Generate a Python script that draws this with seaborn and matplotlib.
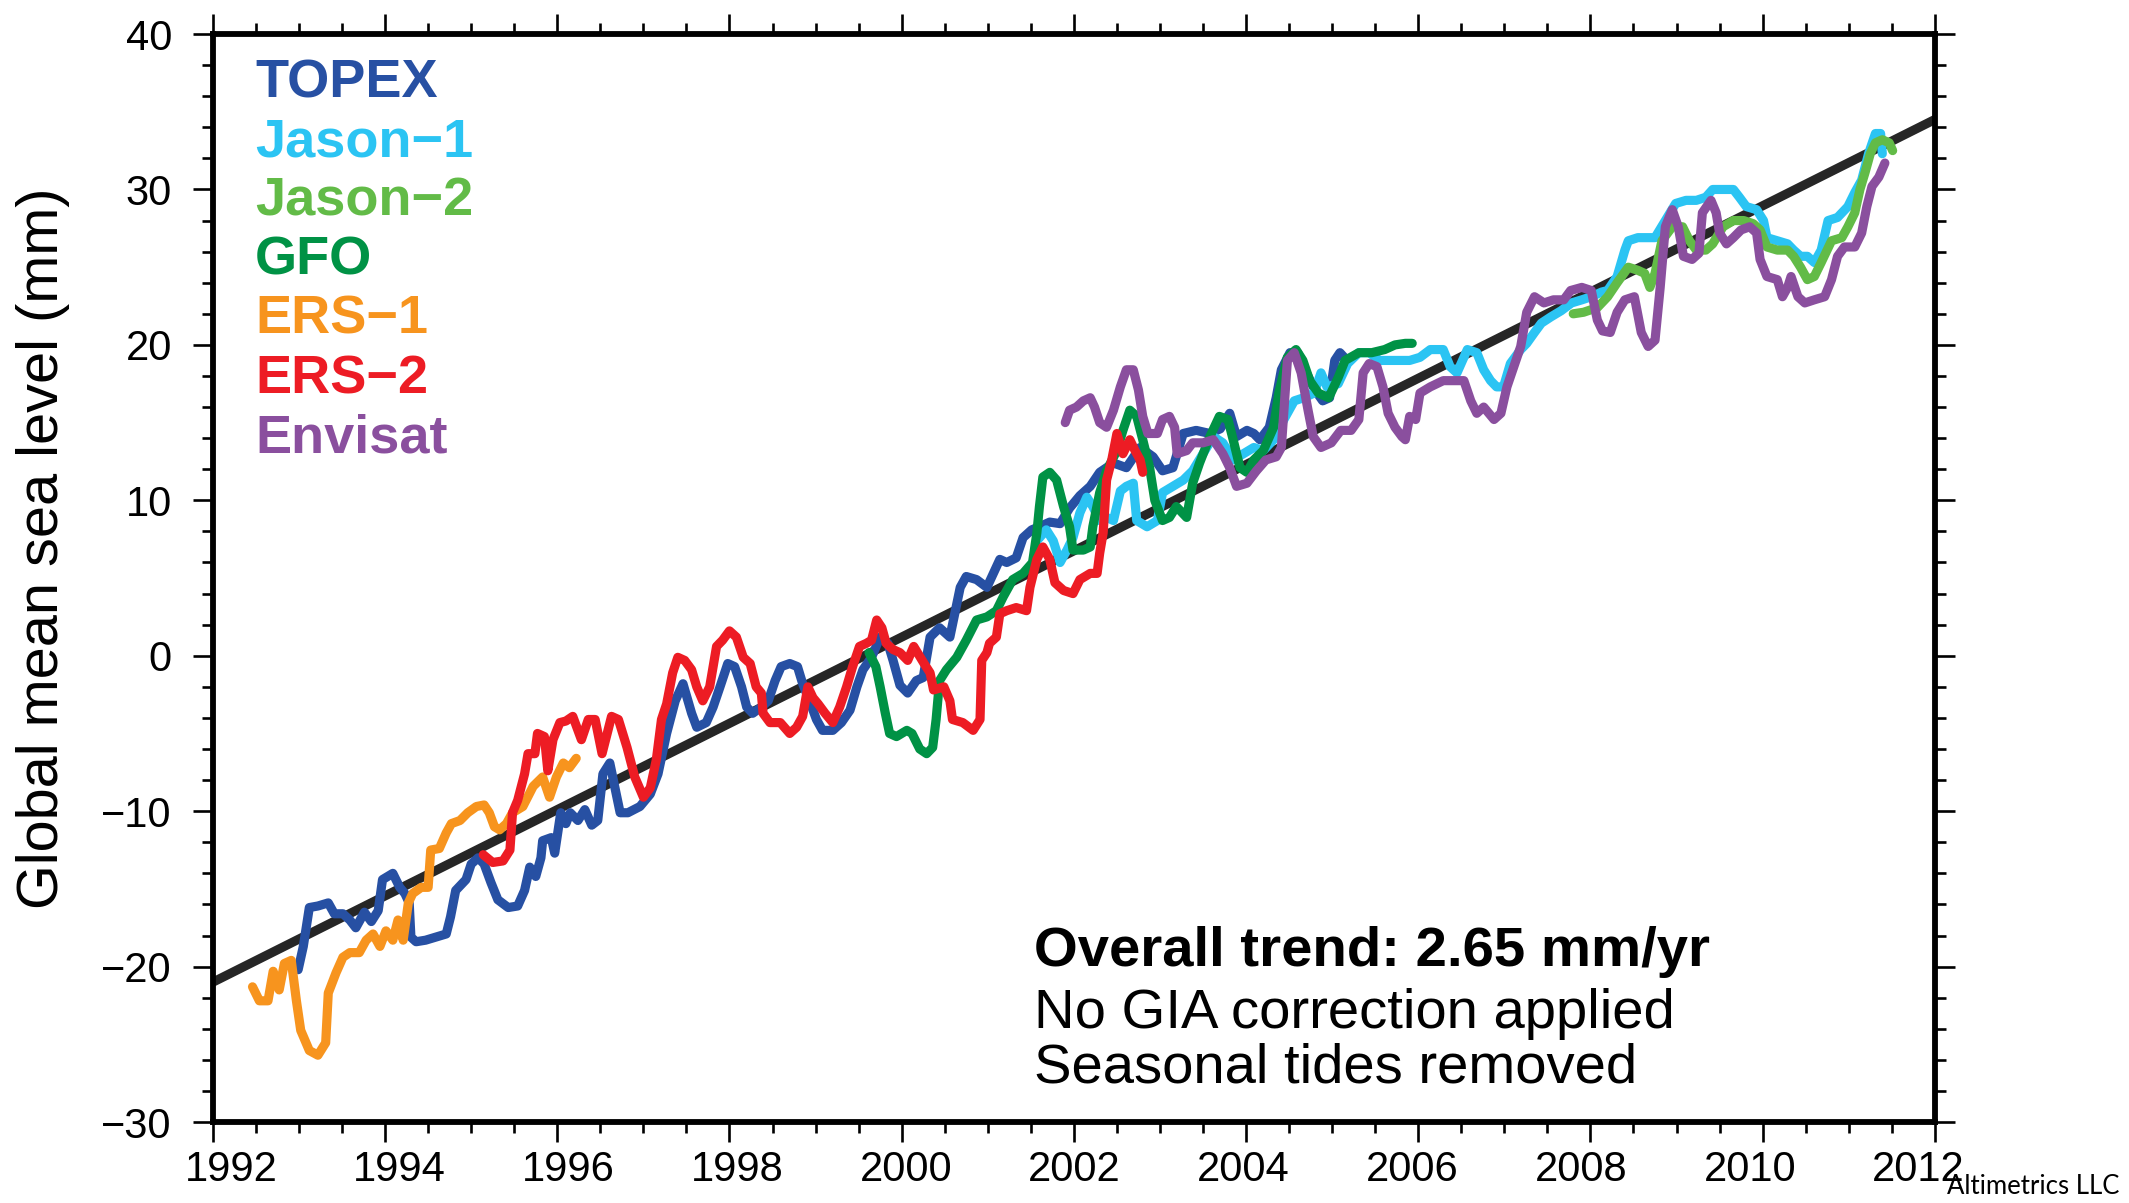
import numpy as np
import pandas as pd
import matplotlib
matplotlib.use('Agg')
import matplotlib.pyplot as plt
from matplotlib.ticker import MultipleLocator
import seaborn as sns

# ---- data (year, global mean sea level in mm) ----
topex_years = [1992.99, 1993.05, 1993.12, 1993.22, 1993.34, 1993.41, 1993.51, 1993.59, 1993.66, 1993.76,
               1993.84, 1993.92, 1993.97, 1994.09, 1994.17, 1994.23, 1994.28, 1994.30, 1994.36, 1994.47,
               1994.59, 1994.71, 1994.76, 1994.82, 1994.94, 1995.00, 1995.08, 1995.15, 1995.23, 1995.31,
               1995.43, 1995.54, 1995.62, 1995.68, 1995.75, 1995.81, 1995.83, 1995.93, 1995.97, 1996.04,
               1996.10, 1996.15, 1996.24, 1996.32, 1996.40, 1996.47, 1996.53, 1996.61, 1996.67, 1996.73,
               1996.82, 1996.96, 1997.08, 1997.17, 1997.27, 1997.37, 1997.46, 1997.56, 1997.62, 1997.73,
               1997.81, 1997.89, 1997.98, 1998.06, 1998.14, 1998.20, 1998.27, 1998.37, 1998.45, 1998.53,
               1998.60, 1998.70, 1998.79, 1998.85, 1998.93, 1999.01, 1999.08, 1999.20, 1999.30, 1999.40,
               1999.48, 1999.55, 1999.65, 1999.75, 1999.84, 1999.90, 1999.98, 2000.07, 2000.17, 2000.25,
               2000.33, 2000.44, 2000.56, 2000.68, 2000.75, 2000.87, 2000.99, 2001.14, 2001.22, 2001.33,
               2001.41, 2001.51, 2001.60, 2001.72, 2001.84, 2001.95, 2002.07, 2002.19, 2002.30, 2002.46,
               2002.61, 2002.77, 2002.92, 2003.03, 2003.15, 2003.27, 2003.42, 2003.58, 2003.70, 2003.81,
               2003.89, 2004.01, 2004.09, 2004.16, 2004.27, 2004.35, 2004.41, 2004.51, 2004.60, 2004.70,
               2004.80, 2004.89, 2004.97, 2005.03, 2005.09, 2005.14]
topex_gmsl = [-20.2, -18.7, -16.2, -16.1, -15.9, -16.6, -16.6, -17.0, -17.5, -16.5,
              -17.1, -16.4, -14.4, -14.0, -14.9, -15.3, -15.9, -18.1, -18.4, -18.3,
              -18.1, -17.9, -16.8, -15.1, -14.4, -13.4, -13.0, -13.4, -14.6, -15.7,
              -16.2, -16.1, -15.1, -13.6, -14.2, -13.0, -11.9, -11.7, -12.7, -10.1,
              -10.8, -10.1, -10.6, -9.9, -10.9, -10.6, -7.6, -6.9, -8.5, -10.1,
              -10.1, -9.7, -8.9, -7.6, -5.0, -2.9, -1.8, -3.7, -4.6, -4.3,
              -3.3, -2.0, -0.5, -0.7, -2.0, -3.3, -3.7, -3.3, -2.9, -1.6,
              -0.7, -0.5, -0.7, -1.8, -2.9, -4.1, -4.8, -4.8, -4.3, -3.5,
              -2.0, -0.9, -0.1, 1.2, 0.8, -0.3, -1.9, -2.4, -1.6, -1.4,
              1.2, 1.8, 1.2, 4.4, 5.1, 4.9, 4.4, 6.2, 6.0, 6.3,
              7.6, 8.1, 8.3, 8.6, 8.5, 9.5, 10.3, 10.9, 11.8, 12.4,
              12.1, 13.4, 12.8, 11.9, 12.1, 14.3, 14.5, 14.3, 14.6, 15.6,
              14.1, 14.5, 14.3, 13.9, 14.7, 16.6, 18.4, 19.5, 19.5, 18.2,
              17.1, 16.4, 16.6, 19.0, 19.5, 19.2]

jason1_years = [2001.57, 2001.68, 2001.76, 2001.84, 2001.92, 2001.99, 2002.07, 2002.15, 2002.22, 2002.30,
                2002.38, 2002.46, 2002.54, 2002.61, 2002.69, 2002.73, 2002.85, 2002.97, 2003.03, 2003.15,
                2003.27, 2003.38, 2003.50, 2003.62, 2003.73, 2003.85, 2003.97, 2004.09, 2004.20, 2004.32,
                2004.44, 2004.56, 2004.67, 2004.79, 2004.87, 2004.94, 2005.07, 2005.18, 2005.31, 2005.43,
                2005.55, 2005.67, 2005.78, 2005.90, 2006.02, 2006.14, 2006.29, 2006.37, 2006.45, 2006.57,
                2006.68, 2006.76, 2006.84, 2006.91, 2006.99, 2007.07, 2007.19, 2007.26, 2007.35, 2007.43,
                2007.54, 2007.66, 2007.78, 2007.90, 2008.01, 2008.13, 2008.20, 2008.31, 2008.40, 2008.44,
                2008.55, 2008.67, 2008.75, 2008.87, 2008.99, 2009.11, 2009.23, 2009.34, 2009.42, 2009.54,
                2009.66, 2009.73, 2009.81, 2009.93, 2010.01, 2010.05, 2010.17, 2010.29, 2010.36, 2010.44,
                2010.52, 2010.60, 2010.68, 2010.76, 2010.87, 2010.99, 2011.07, 2011.15, 2011.23, 2011.31,
                2011.37, 2011.39]
jason1_gmsl = [7.4, 8.1, 7.4, 6.0, 6.8, 7.6, 9.2, 10.2, 9.6, 8.7,
               8.9, 8.7, 10.6, 10.9, 11.1, 8.7, 8.3, 8.7, 10.5, 10.9,
               11.3, 11.9, 13.0, 14.1, 13.7, 12.6, 13.0, 13.4, 13.2, 13.9,
               15.2, 16.4, 16.6, 16.9, 18.2, 17.3, 17.5, 18.8, 19.5, 19.5,
               19.0, 19.0, 19.0, 19.0, 19.2, 19.7, 19.7, 18.6, 18.2, 19.7,
               19.5, 18.4, 17.7, 17.3, 17.3, 18.8, 19.7, 20.1, 20.8, 21.4,
               21.8, 22.2, 22.7, 22.9, 23.1, 23.4, 23.5, 24.4, 26.1, 26.7,
               26.9, 26.9, 26.9, 28.0, 29.1, 29.3, 29.3, 29.5, 30.0, 30.0,
               30.0, 29.5, 28.9, 28.7, 28.0, 26.9, 26.7, 26.5, 26.1, 25.7,
               25.7, 25.3, 26.1, 28.0, 28.2, 28.9, 29.8, 30.6, 32.3, 33.6,
               33.6, 32.3]

jason2_years = [2007.80, 2007.92, 2008.08, 2008.20, 2008.31, 2008.44, 2008.55, 2008.63, 2008.69, 2008.75,
                2008.83, 2008.95, 2009.07, 2009.15, 2009.23, 2009.34, 2009.42, 2009.54, 2009.66, 2009.78,
                2009.89, 2009.97, 2010.05, 2010.17, 2010.29, 2010.36, 2010.44, 2010.52, 2010.60, 2010.68,
                2010.80, 2010.92, 2010.99, 2011.07, 2011.13, 2011.19, 2011.25, 2011.31, 2011.39, 2011.47,
                2011.51]
jason2_gmsl = [22.0, 22.1, 22.4, 23.1, 24.0, 25.0, 24.8, 24.6, 23.7, 24.6,
               26.7, 27.6, 27.6, 26.7, 26.1, 26.1, 26.5, 27.6, 28.0, 28.0,
               27.8, 27.4, 26.3, 26.1, 26.1, 25.7, 25.0, 24.2, 24.4, 25.3,
               26.7, 26.9, 27.6, 28.5, 30.0, 31.1, 32.3, 33.0, 33.2, 33.0,
               32.5]

gfo_years = [1999.62, 1999.70, 1999.75, 1999.81, 1999.86, 1999.94, 2000.06, 2000.12, 2000.21, 2000.29,
             2000.36, 2000.40, 2000.44, 2000.52, 2000.64, 2000.75, 2000.87, 2000.99, 2001.10, 2001.18,
             2001.29, 2001.41, 2001.52, 2001.57, 2001.60, 2001.64, 2001.72, 2001.80, 2001.88, 2001.95,
             2001.99, 2002.11, 2002.19, 2002.22, 2002.30, 2002.38, 2002.50, 2002.57, 2002.65, 2002.73,
             2002.80, 2002.88, 2002.94, 2003.03, 2003.11, 2003.19, 2003.31, 2003.38, 2003.46, 2003.58,
             2003.69, 2003.79, 2003.85, 2003.93, 2004.01, 2004.09, 2004.20, 2004.32, 2004.38, 2004.48,
             2004.58, 2004.66, 2004.74, 2004.84, 2004.96, 2005.07, 2005.15, 2005.31, 2005.46, 2005.61,
             2005.73, 2005.85, 2005.93]
gfo_gmsl = [0.2, -0.7, -2.0, -3.7, -5.0, -5.2, -4.8, -5.0, -6.0, -6.3,
            -5.9, -4.1, -1.6, -0.9, -0.1, 1.0, 2.3, 2.5, 2.9, 3.8,
            4.9, 5.3, 6.0, 7.9, 9.6, 11.5, 11.8, 11.3, 9.6, 8.3,
            6.8, 6.8, 7.0, 8.3, 10.5, 11.9, 13.2, 14.5, 15.8, 15.4,
            13.9, 12.1, 10.0, 8.7, 8.9, 9.6, 8.9, 11.1, 12.4, 14.1,
            15.4, 15.2, 13.9, 12.1, 11.8, 12.6, 13.2, 14.7, 16.9, 19.2,
            19.7, 19.0, 17.7, 16.9, 16.6, 17.9, 19.0, 19.5, 19.5, 19.7,
            20.0, 20.1, 20.1]

ers1_years = [1992.46, 1992.54, 1992.64, 1992.70, 1992.77, 1992.83, 1992.91, 1992.97, 1993.02, 1993.12,
              1993.22, 1993.31, 1993.34, 1993.43, 1993.51, 1993.59, 1993.70, 1993.78, 1993.86, 1993.94,
              1994.01, 1994.09, 1994.15, 1994.21, 1994.27, 1994.32, 1994.42, 1994.50, 1994.53, 1994.63,
              1994.71, 1994.77, 1994.87, 1994.96, 1995.06, 1995.15, 1995.21, 1995.27, 1995.33, 1995.41,
              1995.48, 1995.60, 1995.72, 1995.83, 1995.91, 1995.99, 1996.07, 1996.14, 1996.22]
ers1_gmsl = [-21.3, -22.2, -22.2, -20.3, -21.5, -19.8, -19.6, -22.2, -24.1, -25.4,
             -25.7, -24.9, -21.7, -20.4, -19.4, -19.1, -19.1, -18.3, -17.9, -18.7,
             -17.7, -18.3, -17.0, -18.3, -15.9, -15.3, -14.9, -14.9, -12.5, -12.4,
             -11.4, -10.8, -10.6, -10.1, -9.7, -9.6, -10.1, -11.0, -11.2, -10.8,
             -10.1, -9.7, -8.4, -7.8, -9.1, -7.8, -6.9, -7.2, -6.6]

ers2_years = [1995.14, 1995.25, 1995.37, 1995.45, 1995.48, 1995.54, 1995.62, 1995.66, 1995.74, 1995.77,
              1995.85, 1995.89, 1995.95, 1996.03, 1996.10, 1996.18, 1996.28, 1996.36, 1996.44, 1996.52,
              1996.63, 1996.71, 1996.81, 1996.90, 1997.00, 1997.08, 1997.15, 1997.21, 1997.27, 1997.34,
              1997.40, 1997.48, 1997.56, 1997.62, 1997.69, 1997.77, 1997.85, 1997.92, 1998.00, 1998.08,
              1998.16, 1998.24, 1998.31, 1998.37, 1998.39, 1998.47, 1998.59, 1998.70, 1998.78, 1998.85,
              1998.91, 1998.97, 1999.03, 1999.11, 1999.20, 1999.28, 1999.36, 1999.43, 1999.51, 1999.59,
              1999.65, 1999.71, 1999.77, 1999.82, 1999.90, 1999.98, 2000.07, 2000.14, 2000.26, 2000.33,
              2000.37, 2000.49, 2000.56, 2000.59, 2000.71, 2000.83, 2000.91, 2000.93, 2000.99, 2001.02,
              2001.10, 2001.14, 2001.22, 2001.33, 2001.45, 2001.49, 2001.57, 2001.64, 2001.72, 2001.78,
              2001.88, 2001.99, 2002.07, 2002.19, 2002.27, 2002.30, 2002.34, 2002.36, 2002.38, 2002.44,
              2002.50, 2002.57, 2002.65, 2002.71, 2002.77, 2002.80]
ers2_gmsl = [-12.8, -13.3, -13.2, -12.5, -10.1, -9.3, -7.6, -6.3, -6.3, -5.0,
             -5.2, -7.4, -5.4, -4.3, -4.2, -3.9, -5.4, -4.1, -4.1, -6.3,
             -3.9, -4.1, -5.9, -7.8, -9.1, -8.5, -6.7, -4.1, -3.1, -1.1,
             -0.1, -0.3, -0.9, -2.0, -2.9, -2.0, 0.6, 1.0, 1.6, 1.2,
             -0.1, -0.5, -2.0, -2.4, -3.7, -4.3, -4.3, -5.0, -4.6, -3.9,
             -2.0, -2.7, -3.1, -3.7, -4.3, -3.3, -2.0, -0.7, 0.6, 0.8,
             1.0, 2.3, 1.8, 0.8, 0.4, 0.2, -0.3, 0.6, -0.5, -1.1,
             -2.2, -2.0, -2.9, -4.1, -4.3, -4.8, -4.1, -0.3, 0.2, 0.8,
             1.2, 2.7, 2.9, 3.1, 2.9, 4.4, 6.2, 7.0, 6.2, 4.7,
             4.2, 4.0, 4.9, 5.3, 5.3, 6.6, 7.9, 9.6, 11.3, 12.6,
             14.3, 13.0, 13.9, 13.2, 12.6, 11.8]

envisat_years = [2001.90, 2001.95, 2002.03, 2002.11, 2002.19, 2002.24, 2002.30, 2002.38, 2002.46, 2002.54,
                 2002.61, 2002.69, 2002.75, 2002.80, 2002.86, 2002.97, 2003.03, 2003.11, 2003.17, 2003.20,
                 2003.31, 2003.38, 2003.50, 2003.62, 2003.73, 2003.81, 2003.89, 2004.01, 2004.12, 2004.23,
                 2004.35, 2004.41, 2004.48, 2004.56, 2004.64, 2004.72, 2004.78, 2004.87, 2004.99, 2005.10,
                 2005.22, 2005.31, 2005.36, 2005.43, 2005.52, 2005.59, 2005.65, 2005.73, 2005.81, 2005.85,
                 2005.90, 2005.97, 2006.02, 2006.14, 2006.29, 2006.45, 2006.53, 2006.61, 2006.68, 2006.76,
                 2006.88, 2006.96, 2007.03, 2007.11, 2007.19, 2007.26, 2007.35, 2007.46, 2007.57, 2007.69,
                 2007.77, 2007.90, 2008.01, 2008.08, 2008.14, 2008.23, 2008.31, 2008.40, 2008.51, 2008.59,
                 2008.67, 2008.75, 2008.81, 2008.87, 2008.95, 2009.02, 2009.08, 2009.18, 2009.26, 2009.30,
                 2009.40, 2009.46, 2009.50, 2009.58, 2009.66, 2009.75, 2009.85, 2009.93, 2009.97, 2010.05,
                 2010.17, 2010.23, 2010.29, 2010.33, 2010.41, 2010.49, 2010.60, 2010.72, 2010.80, 2010.87,
                 2010.95, 2011.07, 2011.15, 2011.21, 2011.27, 2011.35, 2011.42]
envisat_gmsl = [15.0, 15.8, 16.0, 16.4, 16.6, 16.0, 15.0, 14.7, 15.8, 17.3,
                18.4, 18.4, 17.1, 15.4, 14.3, 14.3, 15.2, 15.4, 14.7, 13.0,
                13.2, 13.7, 13.7, 13.9, 13.0, 12.1, 10.9, 11.1, 11.9, 12.6,
                12.8, 13.4, 19.0, 19.5, 18.2, 15.8, 14.1, 13.4, 13.7, 14.5,
                14.5, 15.2, 18.2, 18.8, 18.6, 17.3, 15.6, 14.7, 14.1, 13.9,
                15.4, 15.2, 16.9, 17.3, 17.7, 17.7, 17.7, 16.4, 15.6, 16.0,
                15.2, 15.6, 17.3, 18.6, 19.9, 22.1, 23.1, 22.7, 22.9, 22.9,
                23.5, 23.7, 23.5, 21.6, 20.9, 20.8, 22.1, 22.9, 23.1, 20.8,
                19.9, 20.3, 23.7, 27.6, 28.7, 27.6, 25.7, 25.5, 25.9, 28.5,
                29.3, 28.5, 27.2, 26.5, 26.9, 27.4, 27.6, 27.2, 25.5, 24.4,
                24.2, 23.1, 23.7, 24.4, 23.1, 22.7, 22.9, 23.1, 24.2, 25.7,
                26.3, 26.3, 27.2, 28.9, 30.2, 30.8, 31.7]

trend_years = [1992, 2012]
trend_gmsl = [-21.0, 34.5]

missions = ['TOPEX', 'Jason\u22121', 'Jason\u22122', 'GFO', 'ERS\u22121', 'ERS\u22122', 'Envisat']
mission_colors = ['#2750a3', '#2bc4f3', '#62bb47', '#009245', '#f7941e', '#ed1c24', '#8a4f9e']
series = [(topex_years, topex_gmsl), (jason1_years, jason1_gmsl), (jason2_years, jason2_gmsl),
          (gfo_years, gfo_gmsl), (ers1_years, ers1_gmsl), (ers2_years, ers2_gmsl),
          (envisat_years, envisat_gmsl)]

frames = []
for name, (yrs, vals) in zip(missions, series):
    frames.append(pd.DataFrame({'year': yrs, 'gmsl': vals, 'mission': name}))
df = pd.concat(frames, ignore_index=True)

x_label_years = list(range(1992, 2013, 2))

#%% plot
sns.set_theme(style='ticks')
plt.rcParams['font.family'] = ['Liberation Sans', 'DejaVu Sans']

fig = plt.figure(figsize=(21.29, 12.03), dpi=100)
ax = fig.add_axes([0.1000, 0.0673, 0.8088, 0.9044])

ax.plot(trend_years, trend_gmsl, color='#262626', linewidth=6.6, solid_capstyle='butt', zorder=1)

sns.lineplot(data=df, x='year', y='gmsl', hue='mission', hue_order=missions,
             palette=dict(zip(missions, mission_colors)), estimator=None, sort=False,
             linewidth=6.6, legend=False, ax=ax, zorder=2,
             solid_joinstyle='round', solid_capstyle='round')

ax.set_xlim(1992, 2012)
ax.set_ylim(-30, 40)
ax.set_xlabel('')
ax.set_ylabel('Global mean sea level (mm)', fontsize=41.5, color='black')
ax.yaxis.set_label_coords(-0.083, 0.527)

ax.xaxis.set_major_locator(MultipleLocator(2))
ax.xaxis.set_minor_locator(MultipleLocator(0.5))
ax.yaxis.set_major_locator(MultipleLocator(10))
ax.yaxis.set_minor_locator(MultipleLocator(2))

for s in ax.spines.values():
    s.set_visible(True)
    s.set_color('black')
    s.set_linewidth(4.2)

ax.tick_params(which='both', direction='out', top=True, right=True, color='black', width=1.9)
ax.tick_params(which='major', length=14.5)
ax.tick_params(which='minor', length=8)
ax.tick_params(axis='y', labelsize=30, pad=15, labelcolor='black')
ax.tick_params(axis='x', labelbottom=False)

# year labels sit on a slightly tighter spacing than the ticks in the original
def to_label(x):
    return 1992 + (np.asarray(x) - 1992.21) / 0.98

def from_label(v):
    return 1992.21 + (np.asarray(v) - 1992) * 0.98

sec = ax.secondary_xaxis('bottom', functions=(to_label, from_label))
sec.set_xticks(x_label_years)
sec.set_xticklabels([str(y) for y in x_label_years])
sec.tick_params(length=0, labelsize=30, pad=20, labelcolor='black')
sec.spines['bottom'].set_visible(False)

# mission names coloured like their lines
for i, (name, col) in enumerate(zip(missions, mission_colors)):
    base = 97 + i * 59.2
    ax.text(0.0244, (1122 - base) / 1088, name, transform=ax.transAxes, color=col,
            fontsize=39, fontweight='bold', ha='left', va='baseline')

notes = ['Overall trend: 2.65 mm/yr', 'No GIA correction applied', 'Seasonal tides removed']
note_base = [966, 1028, 1082]
for i, (txt, b) in enumerate(zip(notes, note_base)):
    ax.text(0.477, (1122 - b) / 1088, txt, transform=ax.transAxes, color='black',
            fontsize=40.5, fontweight='bold' if i == 0 else 'normal', ha='left', va='baseline')

fig.text(0.9145, 0.003, 'Altimetrics LLC', fontsize=18.5, family=['Lato', 'DejaVu Sans'],
         color='black', ha='left', va='bottom')

fig.savefig('out.png', dpi=100, facecolor='white')
